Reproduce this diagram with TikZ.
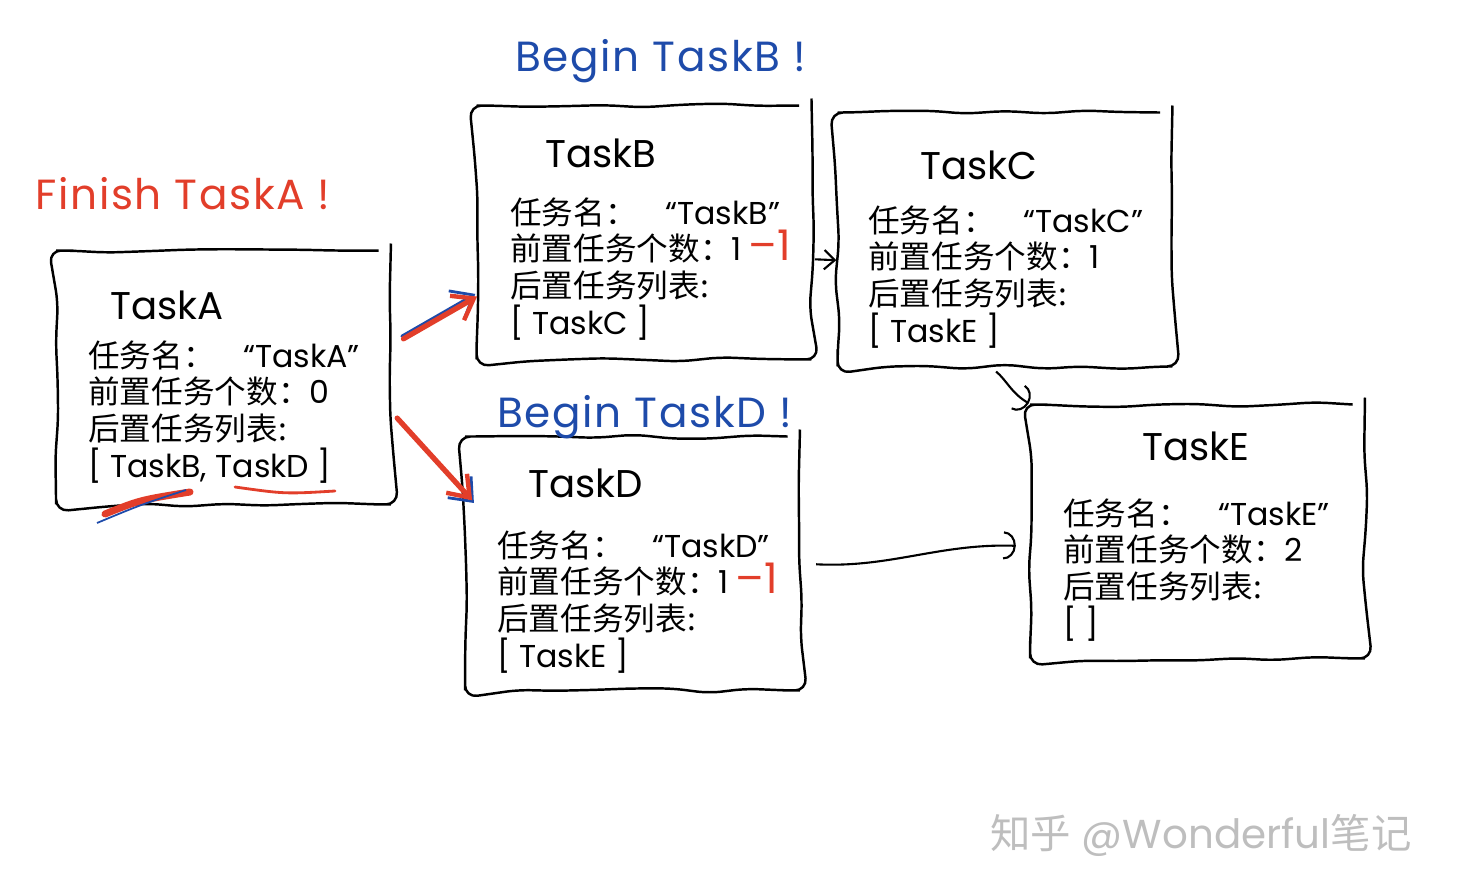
\documentclass[tikz,border=0pt]{standalone}
\usepackage{fontspec}
\setmainfont{Poppins}
\newfontfamily\cjk{Noto Sans CJK SC}
\usepackage{xcolor}
\usetikzlibrary{arrows.meta, decorations.pathmorphing}
\definecolor{penred}{RGB}{226,62,42}
\definecolor{penblue}{RGB}{30,75,170}
\definecolor{markgray}{RGB}{190,190,190}
\tikzset{
  taskbox/.style={
    draw, line width=1.4pt, rounded corners=7pt,
    minimum width=6.7cm, minimum height=5.08cm,
    decorate, decoration={random steps, segment length=22pt, amplitude=1.5pt}
  },
  tasktitle/.style={anchor=base west, inner sep=0pt, font=\fontsize{22}{26}\selectfont},
  taskbody/.style={anchor=north west, inner sep=0pt, align=left, font=\fontsize{18}{21}\selectfont},
  remark/.style={anchor=base west, inner sep=0pt, font=\fontsize{24}{28}\selectfont\addfontfeatures{LetterSpace=4}},
  link/.style={draw, line width=1.2pt, -{Straight Barb[length=6pt, width=11pt]}},
  curvelink/.style={draw, line width=1.2pt, -{Arc Barb[length=7pt, width=16pt]}},
  redpen/.style={draw=penred, line width=3pt, line cap=round,
    -{Straight Barb[length=11pt, width=16pt, line width=2.5pt]}},
  bluepen/.style={draw=penblue, line width=1.6pt, line cap=round,
    -{Straight Barb[length=11pt, width=18pt, line width=1.6pt]}},
}
\newcommand{\minusone}{\textcolor{penred}{\fontsize{24}{21}\selectfont\,–1}}
\newcommand{\namerow}[1]{{\cjk 任务名：}\hspace{0.9em}“#1”}
\newcommand{\prerow}{{\cjk 前置任务个数：}}
\newcommand{\postrow}{{\cjk 后置任务列表:}}

\begin{document}
\begin{tikzpicture}[x=0.02cm, y=-0.02cm]
  \pgfmathsetseed{11}
  \useasboundingbox (0,0) rectangle (1463,891);

  % task boxes
  \node[taskbox] (taskA) at (223.5,377.5) {};
  \node[taskbox] (taskB) at (644,232.5) {};
  \node[taskbox] (taskC) at (1005,239.5) {};
  \node[taskbox] (taskD) at (632.5,563.5) {};
  \node[taskbox] (taskE) at (1197.5,531.5) {};

  % titles
  \node[tasktitle] (titleA) at (110,320) {TaskA};
  \node[tasktitle] (titleB) at (545,168) {TaskB};
  \node[tasktitle] (titleC) at (920,180) {TaskC};
  \node[tasktitle] (titleD) at (528,498) {TaskD};
  \node[tasktitle] (titleE) at (1142,460) {TaskE};

  % contents
  \node[taskbody] (bodyA) at (88,340)
    {\namerow{TaskA}\\\prerow 0\\\postrow\\{[} TaskB, TaskD ]};
  \node[taskbody] (bodyB) at (510,197)
    {\namerow{TaskB}\\\prerow 1\minusone\\\postrow\\{[} TaskC ]};
  \node[taskbody] (bodyC) at (868,205)
    {\namerow{TaskC}\\\prerow 1\\\postrow\\{[} TaskE ]};
  \node[taskbody] (bodyD) at (497,530)
    {\namerow{TaskD}\\\prerow 1\minusone\\\postrow\\{[} TaskE ]};
  \node[taskbody] (bodyE) at (1063,498)
    {\namerow{TaskE}\\\prerow 2\\\postrow\\{[} ]};

  % remarks
  \node[remark, text=penred]  (finishA) at (35,210) {Finish TaskA !};
  \node[remark, text=penblue] (beginB)  at (515,72) {Begin TaskB !};
  \node[remark, text=penblue] (beginD)  at (497,428) {Begin TaskD !};

  % marks under the successors of TaskA
  \draw[penred, line width=4pt, line cap=round] (105,514) .. controls (140,500) .. (190,492);
  \draw[penblue, line width=1pt] (97,523) .. controls (140,505) .. (186,490);
  \draw[penred, line width=1.6pt, line cap=round] (235,487) .. controls (285,494) .. (335,491);

  % finished task starts its successors
  \draw[bluepen, shorten <=0.22cm] (taskA.12) -- (taskB.200);
  \draw[redpen, shorten <=0.22cm, transform canvas={shift={(1pt,-1.5pt)}}] (taskA.12) -- (taskB.200);
  \draw[bluepen, shorten <=0.2cm, shorten >=-0.3cm] (taskA.348) -- (taskD.157);
  \draw[redpen, shorten <=0.2cm, shorten >=-0.3cm, transform canvas={shift={(-1pt,1.5pt)}}] (taskA.348) -- (taskD.157);

  % dependencies
  \draw[link, shorten <=0.05cm] (taskB.351) -- (taskC.187);
  \draw[curvelink, shorten <=0.12cm] (taskC.264) to[out=-40, in=150] (taskE.north west);
  \draw[curvelink, shorten <=0.3cm, shorten >=0.26cm] (taskD.east) to[out=-3, in=178] (taskE.185);

  % watermark
  \node[anchor=base west, inner sep=0pt, text=markgray, font=\fontsize{23}{26}\selectfont]
    (mark) at (990,848) {{\cjk 知乎} @Wonderful{\cjk 笔记}};
\end{tikzpicture}
\end{document}
